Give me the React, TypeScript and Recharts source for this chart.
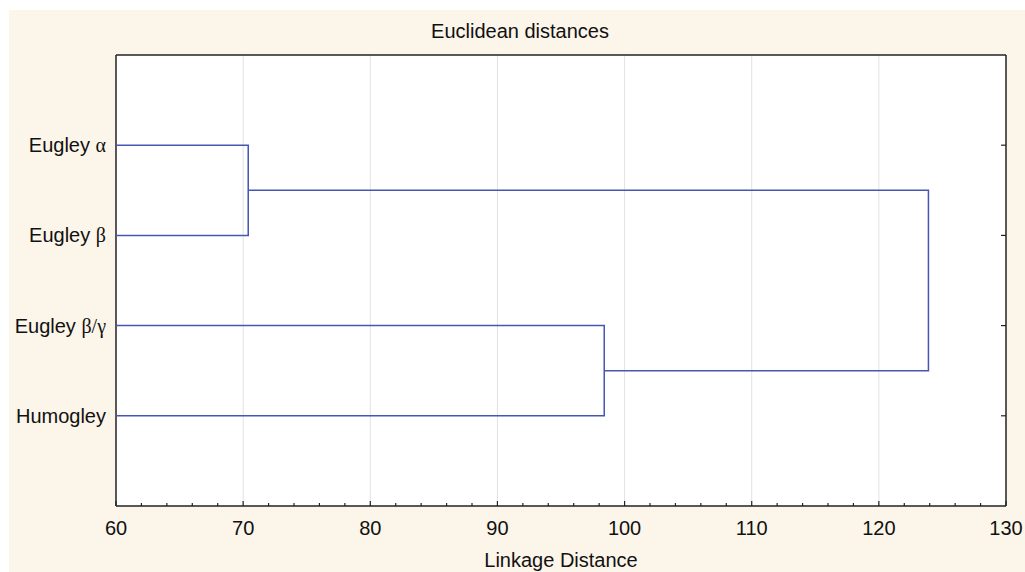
import React from 'react'
import { ScatterChart, Scatter, XAxis, YAxis, ReferenceLine, Label } from 'recharts'

// leaves of the dendrogram, top to bottom
const leaves = ['Eugley α', 'Eugley β', 'Eugley β/γ', 'Humogley']
const leafPos = [1, 2, 3, 4]
// linkage distance of each merge: (α,β), (β/γ,Humogley), (all)
const mergeDist = [70.4, 98.4, 123.9]

const majorTicks = [60, 70, 80, 90, 100, 110, 120, 130]
const minorTicks = [
  60, 62, 64, 66, 68, 70, 72, 74, 76, 78, 80, 82, 84, 86, 88, 90, 92, 94,
  96, 98, 100, 102, 104, 106, 108, 110, 112, 114, 116, 118, 120, 122, 124,
  126, 128, 130,
]
const gridLines = [70, 80, 90, 100, 110, 120]

const X_MIN = 60
const LINE = '#4656b2'
const FONT = '"Liberation Sans", Arial, sans-serif'
const SERIF = '"Liberation Serif", "Times New Roman", serif'
const FS = 20

const link1 = [
  { x: X_MIN, y: leafPos[0] },
  { x: mergeDist[0], y: leafPos[0] },
  { x: mergeDist[0], y: leafPos[1] },
  { x: X_MIN, y: leafPos[1] },
]
const link2 = [
  { x: X_MIN, y: leafPos[2] },
  { x: mergeDist[1], y: leafPos[2] },
  { x: mergeDist[1], y: leafPos[3] },
  { x: X_MIN, y: leafPos[3] },
]
const link3 = [
  { x: mergeDist[0], y: (leafPos[0] + leafPos[1]) / 2 },
  { x: mergeDist[2], y: (leafPos[0] + leafPos[1]) / 2 },
  { x: mergeDist[2], y: (leafPos[2] + leafPos[3]) / 2 },
  { x: mergeDist[1], y: (leafPos[2] + leafPos[3]) / 2 },
]

const BottomTick = (props: any) => {
  const { x, y, payload } = props
  const major = majorTicks.includes(payload.value)
  return (
    <g>
      <line x1={x} x2={x} y1={y} y2={y - (major ? 5 : 3)} stroke="#222" strokeWidth={1.2} />
      {major && (
        <text x={x} y={y + 29} textAnchor="middle" fontFamily={FONT} fontSize={FS} fill="#111">
          {payload.value}
        </text>
      )}
    </g>
  )
}

const TopTick = (props: any) => {
  const { x, y, payload } = props
  const major = majorTicks.includes(payload.value)
  return <line x1={x} x2={x} y1={y} y2={y + (major ? 5 : 3)} stroke="#222" strokeWidth={1.2} />
}

const RightTick = (props: any) => {
  const { x, y } = props
  return <line x1={x} x2={x - 5} y1={y} y2={y} stroke="#222" strokeWidth={1.2} />
}

const LeftTick = (props: any) => {
  const { x, y, payload } = props
  const label = leaves[leafPos.indexOf(payload.value)] || ''
  const m = label.match(/^(.*?)([α-ω\/]+)$/)
  return (
    <text x={x} y={y + 7} textAnchor="end" fontSize={FS} fill="#111" fontFamily={FONT}>
      {m ? (
        <>
          <tspan>{m[1]}</tspan>
          <tspan fontFamily={SERIF}>{m[2]}</tspan>
        </>
      ) : (
        label
      )}
    </text>
  )
}

export default function App() {
  return (
    <div style={{ position: 'absolute', left: 0, top: 0, width: 1025, height: 572, background: '#fff' }}>
      <div style={{ position: 'absolute', left: 9, top: 10, width: 1016, height: 562, background: '#fcf5e9' }} />
      <div
        style={{
          position: 'absolute', left: 320, top: 20, width: 400, height: 22, lineHeight: '22px',
          textAlign: 'center', fontFamily: FONT, fontSize: FS, color: '#111',
        }}
      >
        Euclidean distances
      </div>
      <div style={{ position: 'absolute', left: 0, top: 0 }}>
        <ScatterChart width={1025} height={572} margin={{ top: 25, right: 18, bottom: 26, left: 6 }}>
          <rect x={116} y={55} width={890} height={451} fill="#fff" />
          <XAxis
            type="number"
            dataKey="x"
            domain={[60, 130]}
            ticks={minorTicks}
            interval={0}
            height={40}
            tickSize={0}
            tickMargin={0}
            tickLine={false}
            tick={<BottomTick />}
            axisLine={{ stroke: '#222', strokeWidth: 1.5 }}
            allowDataOverflow
          >
            <Label value="Linkage Distance" position="bottom" offset={7} fontSize={FS} fill="#111" fontFamily={FONT} />
          </XAxis>
          <XAxis
            xAxisId="top"
            orientation="top"
            type="number"
            domain={[60, 130]}
            ticks={minorTicks}
            interval={0}
            height={30}
            tickSize={0}
            tickMargin={0}
            tickLine={false}
            tick={<TopTick />}
            axisLine={{ stroke: '#222', strokeWidth: 1.5 }}
            allowDataOverflow
          />
          <YAxis
            type="number"
            dataKey="y"
            domain={[0, 5]}
            reversed
            ticks={leafPos}
            interval={0}
            width={110}
            tickSize={0}
            tickMargin={10}
            tickLine={false}
            tick={<LeftTick />}
            axisLine={{ stroke: '#222', strokeWidth: 1.5 }}
            allowDataOverflow
          />
          <YAxis
            yAxisId="r"
            orientation="right"
            type="number"
            domain={[0, 5]}
            reversed
            ticks={leafPos}
            interval={0}
            width={1}
            tickSize={0}
            tickMargin={0}
            tickLine={false}
            tick={<RightTick />}
            axisLine={{ stroke: '#222', strokeWidth: 1.5 }}
            allowDataOverflow
          />
          {gridLines.map((v) => (
            <ReferenceLine key={v} x={v} stroke="#e2e2e2" strokeWidth={1} />
          ))}
          {[link1, link2, link3].map((d, i) => (
            <Scatter
              key={i}
              data={d}
              line={{ stroke: LINE, strokeWidth: 1.5 }}
              shape={() => <g />}
              isAnimationActive={false}
              legendType="none"
            />
          ))}
        </ScatterChart>
      </div>
    </div>
  )
}
